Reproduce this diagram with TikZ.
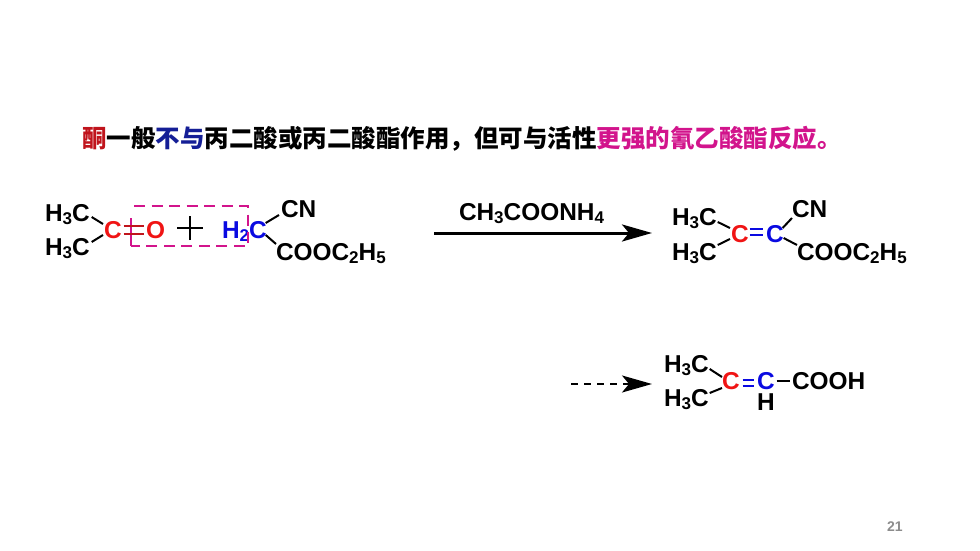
\documentclass[tikz,border=0pt]{standalone}
\usepackage{fontspec}
\setmainfont{Liberation Sans}
\newfontfamily\cjk{Noto Sans CJK SC}
\usetikzlibrary{arrows.meta}
\definecolor{ckred}{RGB}{192,20,28}
\definecolor{ckblue}{RGB}{20,30,150}
\definecolor{ckmag}{RGB}{210,20,140}
\definecolor{atomred}{RGB}{240,20,20}
\definecolor{atomblue}{RGB}{10,10,225}
\newcommand{\sbs}[1]{\raisebox{-3.8pt}{\fontsize{17}{17}\selectfont #1}}
\tikzset{
  x=1pt,y=-1pt,
  chem/.style={inner sep=0pt,outer sep=0pt,anchor=base west,font=\fontsize{24.4}{24.4}\selectfont\bfseries,text height=16pt,text depth=3pt},
  redatom/.style={chem,text=atomred},
  blueatom/.style={chem,text=atomblue},
  bond/.style={line width=2pt,black},
  dbond/.style={line width=2.4pt},
  rxn/.style={line width=3pt,-{Stealth[length=30pt,width=17pt,inset=7pt]}},
  rxnd/.style={line width=2pt,dash pattern=on 6.5pt off 6.5pt,-{Stealth[length=30pt,width=17pt,inset=7pt]}},
  selbox/.style={line width=2.8pt,ckmag,dash pattern=on 11pt off 6.5pt},
}
\begin{document}
\begin{tikzpicture}
\useasboundingbox (0,0) rectangle (980,551);
\fill[white] (0,0) rectangle (980,551);
% title
\node[inner sep=0pt,anchor=base west,font=\cjk\bfseries\fontsize{24.5}{24.5}\selectfont] (title) at (82,147)
 {\textcolor{ckred}{酮}一般\textcolor{ckblue}{不与}丙二酸或丙二酸酯作用，但可与活性\textcolor{ckmag}{更强的氰乙酸酯反应。}};
% reactant
\node[chem] (a1) at (45,221) {H\sbs{3}C};
\node[chem] (a2) at (45,255) {H\sbs{3}C};
\node[redatom] (a3) at (104,238) {C};
\node[redatom] (a4) at (146,238) {O};
\node[blueatom] (a5) at (222,238) {H\sbs{2}C};
\node[chem] (a6) at (281,217) {CN};
\node[chem] (a7) at (276,260) {COOC\sbs{2}H\sbs{5}};
\draw[bond] ([shift={(2,2.5)}]a1.east) -- ([shift={(-1,-7.5)}]a3.west);
\draw[bond] ([shift={(2,-6.5)}]a2.east) -- ([shift={(-1,3.5)}]a3.west);
\draw[bond] ([shift={(-1,-8.5)}]a5.east) -- ([shift={(-2,4.5)}]a6.west);
\draw[bond] ([shift={(-1,3.5)}]a5.east) -- ([shift={(0,-9.5)}]a7.west);
\coordinate (b1) at (134,206);
\coordinate (b2) at (248,206);
\coordinate (b3) at (248,246);
\coordinate (b4) at (131,246);
\coordinate (b5) at (131,218);
\draw[selbox] (b1) -- (b2) -- (b3) -- (b4);
\draw[line width=2.8pt,ckmag] (b4) -- (b5);
\draw[dbond,ckred] ([shift={(2,-5.5)}]a3.east) -- ([shift={(-2,-5.5)}]a4.west);
\draw[dbond,ckred] ([shift={(2,2.5)}]a3.east) -- ([shift={(-2,2.5)}]a4.west);
\coordinate (p) at (190,228);
\draw[line width=2.8pt] ([xshift=-13pt]p) -- ([xshift=13pt]p);
\draw[line width=2.8pt] ([yshift=-12pt]p) -- ([yshift=12pt]p);
% arrow
\node[chem] (r) at (459,220) {CH\sbs{3}COONH\sbs{4}};
\coordinate (ar1) at (434,233);
\coordinate (ar2) at (652,233);
\draw[rxn] (ar1) -- (ar2);
% product 1
\node[chem] (c1) at (672,225) {H\sbs{3}C};
\node[chem] (c2) at (672,260) {H\sbs{3}C};
\node[redatom] (c3) at (731,242) {C};
\node[blueatom] (c4) at (766,242) {C};
\node[chem] (c5) at (792,217) {CN};
\node[chem] (c6) at (797,260) {COOC\sbs{2}H\sbs{5}};
\draw[bond] ([shift={(1,3.5)}]c1.east) -- ([shift={(-1,-7.5)}]c3.west);
\draw[bond] ([shift={(1,-8.5)}]c2.east) -- ([shift={(-1,3.5)}]c3.west);
\draw[dbond,atomblue] ([shift={(1,-6.5)}]c3.east) -- ([shift={(-3,-6.5)}]c4.west);
\draw[dbond,atomblue] ([shift={(1,-0.5)}]c3.east) -- ([shift={(-3,-0.5)}]c4.west);
\draw[bond] ([shift={(-1,-7.5)}]c4.east) -- ([shift={(0,7.5)}]c5.west);
\draw[bond] ([shift={(0,2.5)}]c4.east) -- ([shift={(0,-8.5)}]c6.west);
% second arrow
\coordinate (d1) at (571,384);
\coordinate (d2) at (652,384);
\draw[rxnd] (d1) -- (d2);
% product 2
\node[chem] (e1) at (664,372) {H\sbs{3}C};
\node[chem] (e2) at (664,406) {H\sbs{3}C};
\node[redatom] (e3) at (722,389) {C};
\node[blueatom,text depth=0pt] (e4) at (757,389) {C};
\node[chem] (e5) at (792,389) {COOH};
\node[chem,text height=15pt,text depth=0pt] (e6) at (757,410) {H};
\draw[bond] ([shift={(1,3.5)}]e1.east) -- ([shift={(0,-5.5)}]e3.west);
\draw[bond] ([shift={(1,-6.5)}]e2.east) -- ([shift={(0,5.5)}]e3.west);
\draw[dbond,atomblue] ([shift={(3,-2.5)}]e3.east) -- ([shift={(-3,-1)}]e4.west);
\draw[dbond,atomblue] ([shift={(3,3.5)}]e3.east) -- ([shift={(-3,5)}]e4.west);
\draw[bond] ([shift={(2,0)}]e4.east) -- ([shift={(-2,-1.5)}]e5.west);
% page number
\node[inner sep=0pt,anchor=base west,text=black!45,font=\fontsize{14}{14}\selectfont\bfseries] (n) at (887,531) {21};
\end{tikzpicture}
\end{document}
